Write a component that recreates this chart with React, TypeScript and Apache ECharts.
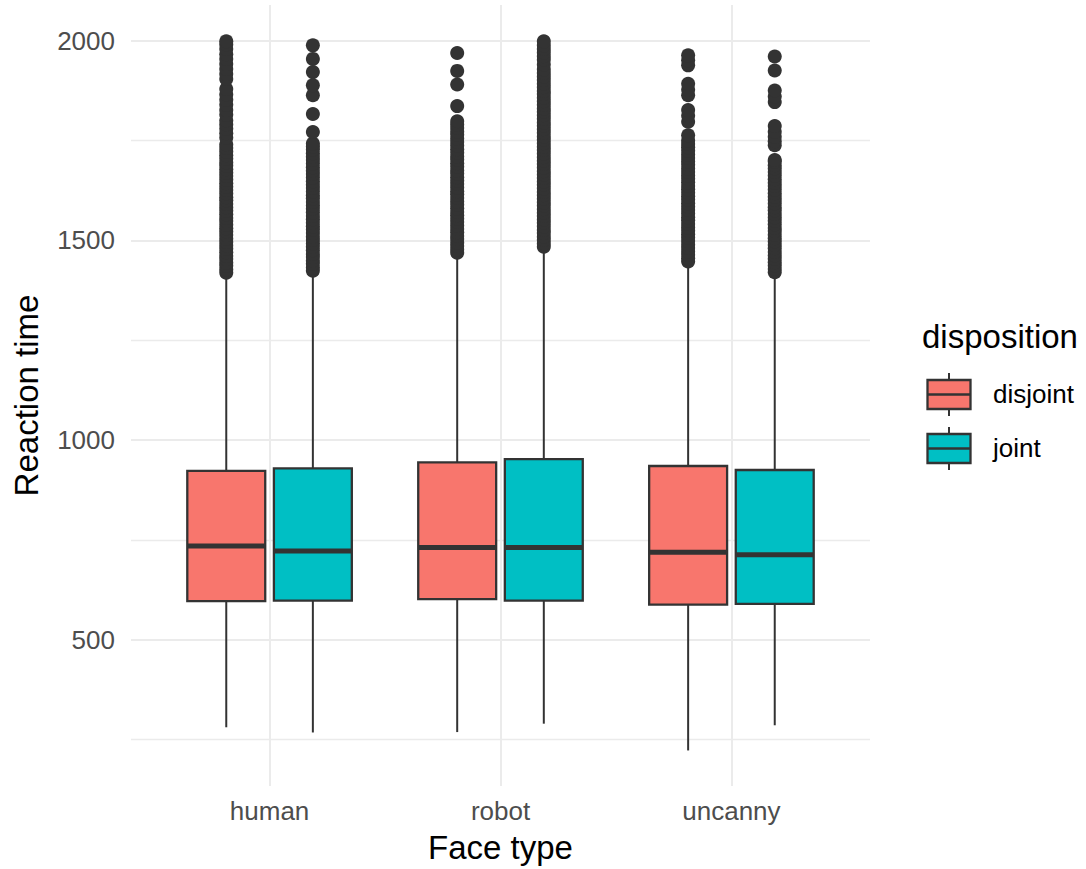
import React, { useEffect, useRef } from 'react';
import * as echarts from 'echarts';

const faceTypes = ['human', 'robot', 'uncanny'];
const dispositions = ['disjoint', 'joint'];
const fillColors = ['#F8766D', '#00BFC4'];

// [lower whisker, Q1, median, Q3, upper whisker] per face type
const disjointBoxes = [
  [281, 597, 735, 923, 1415],
  [269, 602, 731, 944, 1465],
  [223, 588, 719, 935, 1445],
];
const jointBoxes = [
  [268, 598, 722, 929, 1420],
  [290, 598, 731, 952, 1480],
  [286, 590, 713, 925, 1418],
];

const disjointOutliersHuman = [1419, 1427, 1436, 1444, 1453, 1461, 1470, 1479, 1487, 1496, 1504, 1513, 1522, 1530, 1539, 1548, 1556, 1565, 1574, 1582, 1591, 1600, 1608, 1617, 1626, 1634, 1643, 1652, 1661, 1669, 1678, 1687, 1695, 1704, 1713, 1722, 1731, 1740, 1757, 1768, 1779, 1790, 1800, 1814, 1826, 1839, 1852, 1865, 1879, 1904, 1916, 1929, 1941, 1954, 1966, 1979, 1990, 1998];
const disjointOutliersRobot = [1469, 1477, 1486, 1494, 1503, 1511, 1520, 1528, 1537, 1546, 1554, 1563, 1571, 1580, 1589, 1597, 1606, 1615, 1623, 1632, 1641, 1649, 1658, 1667, 1675, 1684, 1693, 1702, 1710, 1719, 1728, 1737, 1746, 1755, 1764, 1772, 1781, 1790, 1798, 1836, 1890, 1924, 1969];
const disjointOutliersUncanny = [1447, 1455, 1464, 1472, 1481, 1489, 1498, 1507, 1515, 1524, 1532, 1541, 1550, 1558, 1567, 1576, 1584, 1593, 1602, 1610, 1619, 1628, 1636, 1645, 1654, 1662, 1671, 1680, 1689, 1697, 1706, 1715, 1724, 1733, 1741, 1750, 1763, 1797, 1812, 1826, 1863, 1877, 1892, 1938, 1951, 1963];
const jointOutliersHuman = [1424, 1432, 1441, 1449, 1458, 1466, 1475, 1484, 1492, 1501, 1509, 1518, 1527, 1535, 1544, 1553, 1561, 1570, 1579, 1587, 1596, 1605, 1613, 1622, 1631, 1639, 1648, 1657, 1666, 1674, 1683, 1692, 1701, 1709, 1718, 1727, 1735, 1742, 1771, 1816, 1863, 1888, 1921, 1954, 1988];
const jointOutliersRobot = [1484, 1492, 1501, 1509, 1518, 1526, 1535, 1544, 1552, 1561, 1569, 1578, 1587, 1595, 1604, 1613, 1621, 1630, 1639, 1647, 1656, 1665, 1673, 1682, 1691, 1699, 1708, 1717, 1726, 1734, 1743, 1752, 1760, 1769, 1778, 1787, 1795, 1804, 1813, 1822, 1830, 1839, 1848, 1857, 1866, 1874, 1883, 1892, 1901, 1910, 1919, 1928, 1940, 1952, 1961, 1970, 1979, 1988, 1998];
const jointOutliersUncanny = [1420, 1428, 1437, 1445, 1454, 1462, 1471, 1480, 1488, 1497, 1505, 1514, 1523, 1531, 1540, 1549, 1557, 1566, 1575, 1583, 1592, 1601, 1609, 1618, 1627, 1636, 1644, 1653, 1662, 1671, 1680, 1688, 1697, 1701, 1738, 1748, 1759, 1772, 1786, 1846, 1860, 1875, 1925, 1960];

const disjointOutliers = [disjointOutliersHuman, disjointOutliersRobot, disjointOutliersUncanny];
const jointOutliers = [jointOutliersHuman, jointOutliersRobot, jointOutliersUncanny];

const yMin = 134;
const yMax = 2089;

const FONT = 'Liberation Sans, Arial, Helvetica, sans-serif';
const DODGE = 0.1875;
const HALF_W = 0.16875;
const STROKE = '#333333';

function boxSeries(name: string, boxes: number[][], offset: number, color: string) {
  return {
    type: 'custom',
    name,
    z: 2,
    data: boxes.map((b, i) => [i, ...b]),
    encode: { x: 0, y: [1, 2, 3, 4, 5] },
    renderItem: (params: any, api: any) => {
      const cx = api.value(0) + offset;
      const lo = api.value(1);
      const q1 = api.value(2);
      const med = api.value(3);
      const q3 = api.value(4);
      const hi = api.value(5);
      const tl = api.coord([cx - HALF_W, q3]);
      const br = api.coord([cx + HALF_W, q1]);
      const pHi = api.coord([cx, hi]);
      const pLo = api.coord([cx, lo]);
      const pMedL = api.coord([cx - HALF_W, med]);
      const pMedR = api.coord([cx + HALF_W, med]);
      return {
        type: 'group',
        children: [
          { type: 'line', shape: { x1: pHi[0], y1: pHi[1], x2: pHi[0], y2: tl[1] }, style: { stroke: STROKE, lineWidth: 2 } },
          { type: 'line', shape: { x1: pLo[0], y1: pLo[1], x2: pLo[0], y2: br[1] }, style: { stroke: STROKE, lineWidth: 2 } },
          {
            type: 'rect',
            shape: { x: tl[0], y: tl[1], width: br[0] - tl[0], height: br[1] - tl[1] },
            style: { fill: color, stroke: STROKE, lineWidth: 2.3 },
          },
          { type: 'line', shape: { x1: pMedL[0], y1: pMedL[1], x2: pMedR[0], y2: pMedR[1] }, style: { stroke: STROKE, lineWidth: 5 } },
        ],
      };
    },
  };
}

function outlierSeries(name: string, outliers: number[][], offset: number) {
  const data: number[][] = [];
  outliers.forEach((vals, i) => vals.forEach((v) => data.push([i + offset, v])));
  return {
    type: 'scatter',
    name: name + ' outliers',
    z: 3,
    symbol: 'circle',
    symbolSize: 14,
    itemStyle: { color: STROKE, opacity: 1 },
    data,
    silent: true,
  };
}

function legendGraphic() {
  const keys = [
    { top: 380, bottom: 409, mid: 394.5, label: dispositions[0], color: fillColors[0], ly: 394 },
    { top: 434, bottom: 463, mid: 448.5, label: dispositions[1], color: fillColors[1], ly: 448 },
  ];
  const children: any[] = [
    {
      type: 'text',
      x: 922,
      y: 336,
      style: { text: 'disposition', font: `33px ${FONT}`, fill: '#000000', textAlign: 'left', textVerticalAlign: 'middle' },
    },
  ];
  keys.forEach((k) => {
    children.push(
      { type: 'line', shape: { x1: 949, y1: k.top - 7, x2: 949, y2: k.top }, style: { stroke: STROKE, lineWidth: 2 } },
      { type: 'line', shape: { x1: 949, y1: k.bottom, x2: 949, y2: k.bottom + 7 }, style: { stroke: STROKE, lineWidth: 2 } },
      { type: 'rect', shape: { x: 927.5, y: k.top, width: 43, height: k.bottom - k.top }, style: { fill: k.color, stroke: STROKE, lineWidth: 2.3 } },
      { type: 'line', shape: { x1: 927.5, y1: k.mid, x2: 970.5, y2: k.mid }, style: { stroke: STROKE, lineWidth: 2.6 } },
      {
        type: 'text',
        x: 993,
        y: k.ly,
        style: { text: k.label, font: `26px ${FONT}`, fill: '#000000', textAlign: 'left', textVerticalAlign: 'middle' },
      }
    );
  });
  return [{ type: 'group', children }];
}

export default function App() {
  const ref = useRef<HTMLDivElement>(null);
  useEffect(() => {
    if (!ref.current) return;
    const chart = echarts.init(ref.current, undefined, { renderer: 'svg' });
    const option: any = {
      animation: false,
      backgroundColor: '#ffffff',
      textStyle: { fontFamily: FONT },
      grid: { left: 131, right: 216, top: 5, bottom: 79, containLabel: false },
      xAxis: {
        type: 'value',
        min: -0.6,
        max: 2.6,
        minInterval: 1,
        maxInterval: 1,
        name: 'Face type',
        nameLocation: 'middle',
        nameGap: 45,
        nameTextStyle: { fontSize: 33, color: '#000000', fontFamily: FONT },
        axisLine: { show: false },
        axisTick: { show: false },
        axisLabel: {
          showMinLabel: false,
          showMaxLabel: false,
          margin: 12,
          fontSize: 26,
          color: '#4D4D4D',
          fontFamily: FONT,
          formatter: (v: number) => (Number.isInteger(v) && faceTypes[v] ? faceTypes[v] : ''),
        },
        splitLine: { show: true, showMinLine: false, showMaxLine: false, lineStyle: { color: '#EBEBEB', width: 2 } },
      },
      yAxis: {
        type: 'value',
        min: yMin,
        max: yMax,
        minInterval: 500,
        maxInterval: 500,
        name: 'Reaction time',
        nameLocation: 'middle',
        nameGap: 88,
        nameTextStyle: { fontSize: 33, color: '#000000', fontFamily: FONT },
        axisLine: { show: false },
        axisTick: { show: false },
        axisLabel: {
          showMinLabel: false,
          showMaxLabel: false,
          margin: 16,
          fontSize: 26,
          color: '#4D4D4D',
          fontFamily: FONT,
          formatter: (v: number) => (v % 500 === 0 ? String(v) : ''),
        },
        splitLine: { show: true, showMinLine: false, showMaxLine: false, lineStyle: { color: '#EBEBEB', width: 2 } },
        minorTick: { show: false, splitNumber: 2 },
        minorSplitLine: { show: true, lineStyle: { color: '#EBEBEB', width: 1.4 } },
      },
      graphic: legendGraphic(),
      series: [
        boxSeries(dispositions[0], disjointBoxes, -DODGE, fillColors[0]),
        boxSeries(dispositions[1], jointBoxes, DODGE, fillColors[1]),
        outlierSeries(dispositions[0], disjointOutliers, -DODGE),
        outlierSeries(dispositions[1], jointOutliers, DODGE),
      ],
    };
    chart.setOption(option);
    return () => chart.dispose();
  }, []);
  return <div ref={ref} style={{ position: 'fixed', left: 0, top: 0, width: 1086, height: 869 }} />;
}
